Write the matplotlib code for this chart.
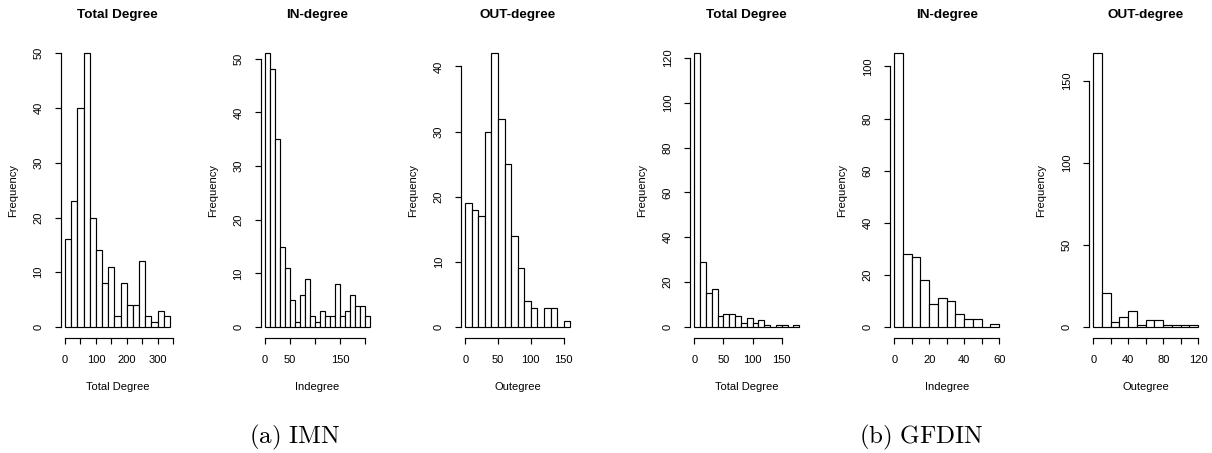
"""Degree histograms for IMN and GFDIN networks (R hist style)."""

import numpy as np
import matplotlib
matplotlib.use("Agg")
import matplotlib.pyplot as plt

plt.rcParams['font.family'] = ['Liberation Sans', 'DejaVu Sans']

# ---- data: bin start, bin width, counts per bin ----
imn_total_start, imn_total_width = 0, 20
imn_total_counts = [16, 23, 40, 50, 20, 14, 8, 11, 2, 8, 4, 4, 12, 2, 1, 3, 2]

imn_in_start, imn_in_width = 0, 10
imn_in_counts = [51, 48, 35, 15, 11, 5, 1, 6, 9, 2, 1, 3, 2, 2, 8, 2, 3, 6, 4, 4, 2]

imn_out_start, imn_out_width = 0, 10
imn_out_counts = [19, 18, 17, 30, 42, 32, 25, 14, 9, 4, 3, 0, 3, 3, 0, 1]

gfdin_total_start, gfdin_total_width = 0, 10
gfdin_total_counts = [122, 29, 15, 17, 5, 6, 6, 5, 2, 4, 2, 3, 1, 0, 1, 1, 0, 1]

gfdin_in_start, gfdin_in_width = 0, 5
gfdin_in_counts = [105, 28, 27, 18, 9, 11, 10, 5, 3, 3, 0, 1]

gfdin_out_start, gfdin_out_width = 0, 10
gfdin_out_counts = [167, 21, 3, 6, 10, 1, 4, 4, 1, 1, 1, 1]

titles = ["Total Degree", "IN-degree", "OUT-degree"] * 2
xlabels = ["Total Degree", "Indegree", "Outegree"] * 2

# x ticks (all ticks) and which of them carry a label
xticks = [
    [0, 50, 100, 150, 200, 250, 300, 350],
    [0, 50, 100, 150, 200],
    [0, 50, 100, 150],
    [0, 50, 100, 150],
    [0, 10, 20, 30, 40, 50, 60],
    [0, 20, 40, 60, 80, 100, 120],
]
xticklabels = [
    ["0", "", "100", "", "200", "", "300", ""],
    ["0", "50", "", "150", ""],
    ["0", "50", "100", "150"],
    ["0", "50", "100", "150"],
    ["0", "", "20", "", "40", "", "60"],
    ["0", "", "40", "", "80", "", "120"],
]
yticks = [
    [0, 10, 20, 30, 40, 50],
    [0, 10, 20, 30, 40, 50],
    [0, 10, 20, 30, 40],
    [0, 20, 40, 60, 80, 100, 120],
    [0, 20, 40, 60, 80, 100],
    [0, 50, 100, 150],
]
captions = ["(a) IMN", "(b) GFDIN"]

panels = [
    (imn_total_start, imn_total_width, imn_total_counts),
    (imn_in_start, imn_in_width, imn_in_counts),
    (imn_out_start, imn_out_width, imn_out_counts),
    (gfdin_total_start, gfdin_total_width, gfdin_total_counts),
    (gfdin_in_start, gfdin_in_width, gfdin_in_counts),
    (gfdin_out_start, gfdin_out_width, gfdin_out_counts),
]

# ---- layout (pixels) ----
W, H = 1212, 453
fig = plt.figure(figsize=(W / 100, H / 100), dpi=100)

lefts = [60.8, 260.8, 461, 690, 890, 1089]
ax_w = 113.4
ax_top, ax_bot = 42.4, 338
tick_len = 4.3  # points
lw = 0.85
fs = 8.0

for i, (start, width, counts) in enumerate(panels):
    counts = np.array(counts)
    edges = start + width * np.arange(len(counts) + 1)
    ax = fig.add_axes([lefts[i] / W, 1 - ax_bot / H, ax_w / W, (ax_bot - ax_top) / H])

    ax.bar(edges[:-1], counts, width=width, align='edge',
           facecolor='white', edgecolor='black', linewidth=lw)

    xr = edges[-1] - edges[0]
    ax.set_xlim(edges[0] - 0.04 * xr, edges[-1] + 0.04 * xr)
    ymax = counts.max()
    ax.set_ylim(-0.04 * ymax, 1.04 * ymax)

    for s in ['top', 'right']:
        ax.spines[s].set_visible(False)
    ax.spines['left'].set_bounds(yticks[i][0], yticks[i][-1])
    ax.spines['bottom'].set_bounds(xticks[i][0], xticks[i][-1])
    for s in ['left', 'bottom']:
        ax.spines[s].set_linewidth(lw)

    ax.set_xticks(xticks[i])
    ax.set_xticklabels(xticklabels[i])
    ax.set_yticks(yticks[i])
    ax.set_yticklabels([str(t) for t in yticks[i]], rotation=90, va='center')
    ax.tick_params(axis='x', length=tick_len, width=lw, pad=8.0, labelsize=fs)
    ax.tick_params(axis='y', length=tick_len, width=lw, pad=8.2, labelsize=fs)

    ax.annotate(titles[i], xy=(0.5, H - 15), xycoords=('axes fraction', 'figure pixels'),
                ha='center', va='center', fontsize=9.7, fontweight='bold')
    ax.annotate(xlabels[i], xy=(0.5, H - 387), xycoords=('axes fraction', 'figure pixels'),
                ha='center', va='center', fontsize=fs)
    ax.annotate("Frequency", xy=(-48, 0.5), xycoords=('axes pixels', 'axes fraction'),
                ha='center', va='center', rotation=90, fontsize=fs)

# sub-figure captions
fig.text(295 / W, 1 - 437 / H, r'$\mathrm{(a)\ IMN}$', ha='center', va='center',
         fontsize=18, math_fontfamily='cm')
fig.text(921 / W, 1 - 437 / H, r'$\mathrm{(b)\ GFDIN}$', ha='center', va='center',
         fontsize=18, math_fontfamily='cm')

fig.savefig('out.png', dpi=100)
